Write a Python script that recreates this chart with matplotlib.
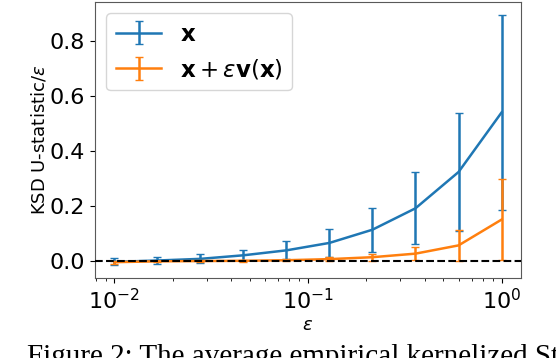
import matplotlib
matplotlib.use("Agg")
import matplotlib.pyplot as plt
import numpy as np

eps = [0.01, 0.0167, 0.0278, 0.0464, 0.0774, 0.129, 0.215, 0.359, 0.599, 1.0]
x_mean = [-0.002, 0.003, 0.009, 0.022, 0.040, 0.067, 0.115, 0.193, 0.325, 0.542]
x_err = [0.013, 0.013, 0.016, 0.021, 0.033, 0.052, 0.080, 0.131, 0.216, 0.356]
xv_mean = [-0.003, 0.000, 0.001, 0.002, 0.004, 0.008, 0.015, 0.028, 0.058, 0.152]
xv_err = [0.005, 0.003, 0.003, 0.003, 0.004, 0.006, 0.012, 0.024, 0.055, 0.148]
yticks = [0.0, 0.2, 0.4, 0.6, 0.8]
labels = [r'$\mathbf{x}$', r'$\mathbf{x}+\varepsilon\mathbf{v}(\mathbf{x})$']

fig = plt.figure(figsize=(5.56, 3.58), dpi=100)
ax = fig.add_axes([95/556, (358-278)/358, 426/556, 276/358])

ax.errorbar(eps, x_mean, yerr=x_err, color='C0', capsize=3, lw=1.8, label=labels[0])
ax.errorbar(eps, xv_mean, yerr=xv_err, color='C1', capsize=3, lw=1.8, label=labels[1])
ax.axhline(0, color='k', ls='--', lw=1.5, zorder=5)
ax.set_xscale('log')
ax.set_yticks(yticks)

ax.tick_params(axis='both', labelsize=16)
ax.set_xlabel(r'$\varepsilon$', fontsize=13, labelpad=2)
ax.set_ylabel(r'KSD U-statistic/$\varepsilon$', fontsize=13, labelpad=1)
for s in ax.spines.values():
    s.set_color('0.35')

ax.legend(loc='upper left', fontsize=16.5, handlelength=2.0)

fig.text(27/556, 1 - 364/358, 'Figure 2: The average empirical kernelized Stein discrepancy',
         family='Liberation Serif', fontsize=21, va='baseline', ha='left')

fig.savefig('out.png', dpi=100)
